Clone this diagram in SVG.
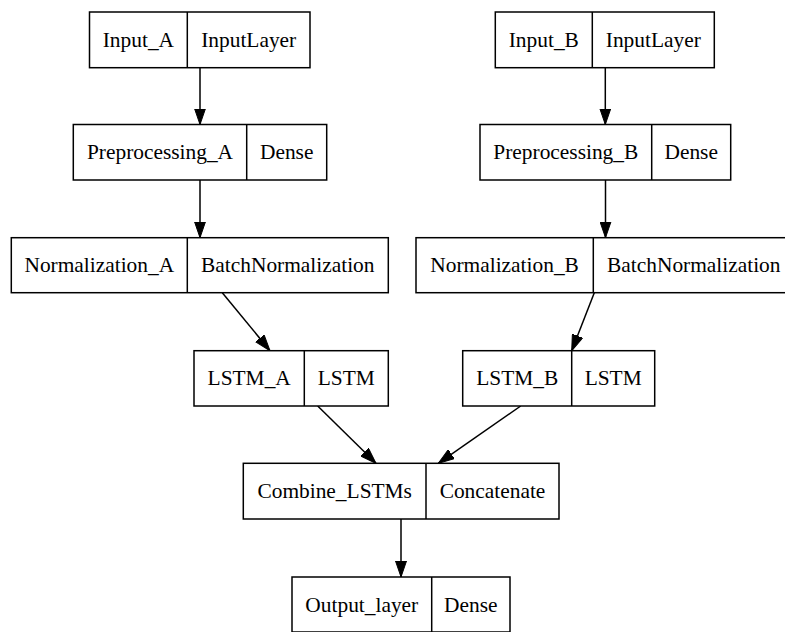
<svg xmlns="http://www.w3.org/2000/svg" width="785" height="632" viewBox="0 0 785 632" font-family="'Liberation Serif', 'DejaVu Serif', serif">
<defs>
<style>
.box{fill:#fff;stroke:#000;stroke-width:1.5}
.div{stroke:#000;stroke-width:1.5}
text{font-family:'Liberation Serif','DejaVu Serif',serif;font-size:21.4px;fill:#000;text-anchor:middle}
.edge{stroke:#000;stroke-width:1.5;fill:none;marker-end:url(#arr)}
</style>
<marker id="arr" markerUnits="userSpaceOnUse" markerWidth="16" markerHeight="12" viewBox="0 0 16 12" refX="16" refY="6" orient="auto">
<path d="M0,0.5 L16,6 L0,11.5 z" fill="#000" stroke="#000" stroke-width="1"/>
</marker>
</defs>
<rect width="785" height="632" fill="#fff"/>
<g id="connectors">
<line class="edge" x1="200" y1="67.7" x2="200" y2="124.5"/>
<line class="edge" x1="605.3" y1="67.7" x2="605.3" y2="124.5"/>
<line class="edge" x1="200" y1="180" x2="200" y2="237.7"/>
<line class="edge" x1="605.5" y1="180" x2="605.5" y2="237.7"/>
<line class="edge" x1="222.3" y1="292.7" x2="270" y2="350.7"/>
<line class="edge" x1="594.3" y1="292.7" x2="571.7" y2="350.7"/>
<line class="edge" x1="317.7" y1="406" x2="376" y2="463.3"/>
<line class="edge" x1="520.7" y1="406" x2="438.3" y2="463.3"/>
<line class="edge" x1="401" y1="519" x2="401" y2="577"/>
</g>
<g id="Input_A">
<rect class="box" x="89.5" y="12" width="220.5" height="55.7"/>
<line class="div" x1="187.3" y1="12" x2="187.3" y2="67.7"/>
<text x="138.4" y="46.7">Input_A</text>
<text x="248.7" y="46.7">InputLayer</text>
</g>
<g id="Input_B">
<rect class="box" x="495.3" y="12" width="219" height="55.7"/>
<line class="div" x1="592.3" y1="12" x2="592.3" y2="67.7"/>
<text x="543.8" y="46.7">Input_B</text>
<text x="653.3" y="46.7">InputLayer</text>
</g>
<g id="Preprocessing_A">
<rect class="box" x="73.3" y="124.5" width="253.4" height="55.5"/>
<line class="div" x1="246.7" y1="124.5" x2="246.7" y2="180"/>
<text x="160" y="159">Preprocessing_A</text>
<text x="286.7" y="159">Dense</text>
</g>
<g id="Preprocessing_B">
<rect class="box" x="480" y="124.5" width="250.7" height="55.5"/>
<line class="div" x1="651.7" y1="124.5" x2="651.7" y2="180"/>
<text x="565.8" y="159">Preprocessing_B</text>
<text x="691.2" y="159">Dense</text>
</g>
<g id="Normalization_A">
<rect class="box" x="11.3" y="237.7" width="377" height="55"/>
<line class="div" x1="187.3" y1="237.7" x2="187.3" y2="292.7"/>
<text x="99.3" y="272.2">Normalization_A</text>
<text x="287.8" y="272.2">BatchNormalization</text>
</g>
<g id="Normalization_B">
<rect class="box" x="416" y="237.7" width="378.3" height="55"/>
<line class="div" x1="593.3" y1="237.7" x2="593.3" y2="292.7"/>
<text x="504.6" y="272.2">Normalization_B</text>
<text x="693.8" y="272.2">BatchNormalization</text>
</g>
<g id="LSTM_A">
<rect class="box" x="194" y="350.7" width="194.3" height="55.3"/>
<line class="div" x1="304.3" y1="350.7" x2="304.3" y2="406"/>
<text x="249.2" y="385.2">LSTM_A</text>
<text x="346.3" y="385.2">LSTM</text>
</g>
<g id="LSTM_B">
<rect class="box" x="462.7" y="350.7" width="192" height="55.3"/>
<line class="div" x1="571.7" y1="350.7" x2="571.7" y2="406"/>
<text x="517.2" y="385.2">LSTM_B</text>
<text x="613.2" y="385.2">LSTM</text>
</g>
<g id="Combine_LSTMs">
<rect class="box" x="243.3" y="463.3" width="315.7" height="55.7"/>
<line class="div" x1="426" y1="463.3" x2="426" y2="519"/>
<text x="334.7" y="497.8">Combine_LSTMs</text>
<text x="492.5" y="497.8">Concatenate</text>
</g>
<g id="Output_layer">
<rect class="box" x="292" y="577" width="218" height="55"/>
<line class="div" x1="431.7" y1="577" x2="431.7" y2="632"/>
<text x="361.8" y="611.5">Output_layer</text>
<text x="470.8" y="611.5">Dense</text>
</g>
</svg>
